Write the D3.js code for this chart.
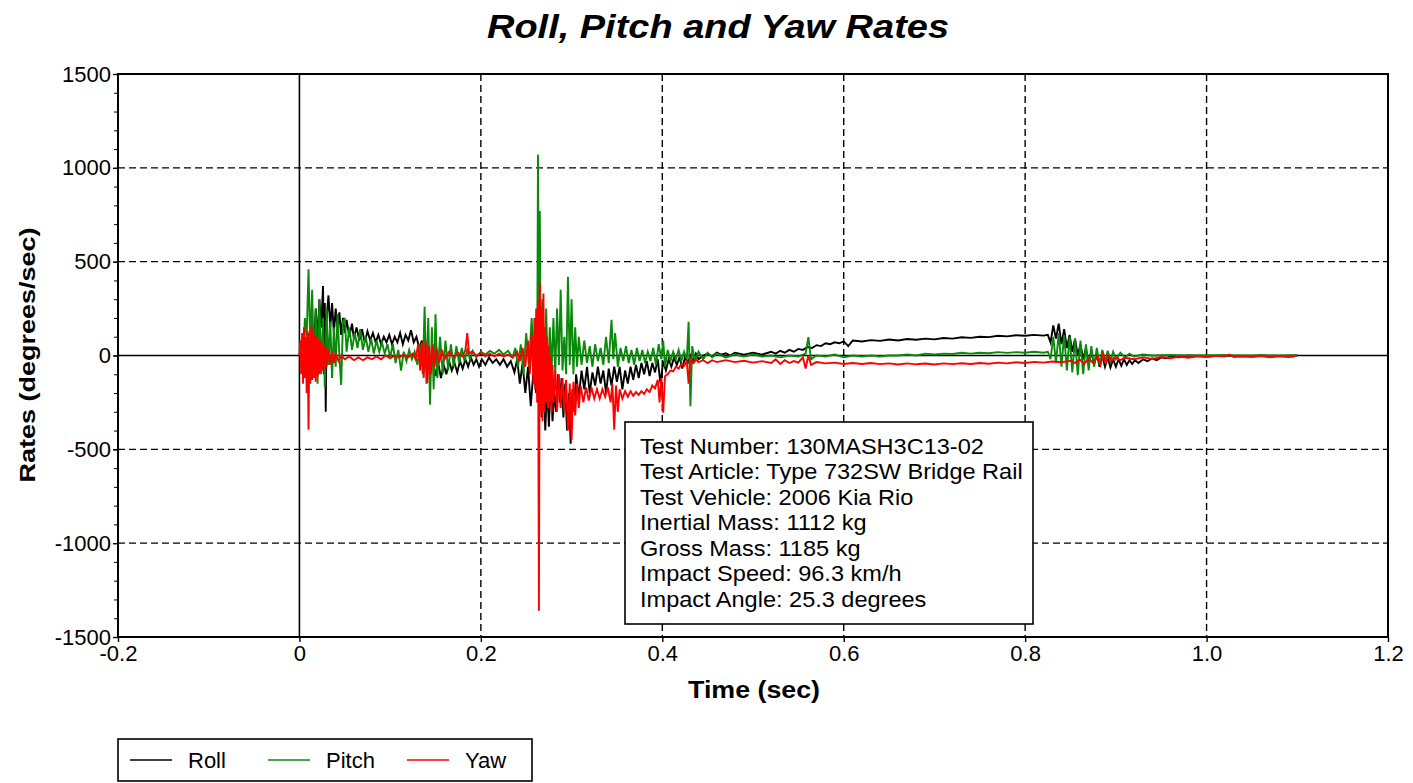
<!DOCTYPE html>
<html><head><meta charset="utf-8">
<script src="https://cdn.jsdelivr.net/npm/d3@7"></script>
<style>body{margin:0;background:#fff} text{font-family:"Liberation Sans",Arial,sans-serif;fill:#000}</style>
</head><body><svg id="c" width="1413" height="783"></svg>
<script>
// [time (sec), rate (deg/sec)]
const roll = [[0,0],[0.002,5],[0.004,-20],[0.006,60],[0.008,-40],[0.010,120],[0.012,-60],[0.014,180],[0.016,40],[0.018,250],[0.020,80],[0.022,300],[0.024,150],[0.026,370],[0.027,-100],[0.028,280],[0.029,-300],[0.030,200],[0.032,320],[0.034,150],[0.036,280],[0.038,120],[0.040,250],[0.042,140],[0.044,230],[0.046,110],[0.048,200],[0.050,120],[0.052,190],[0.055,100],[0.058,170],[0.060,90],[0.063,150],[0.066,80],[0.069,140],[0.072,70],[0.075,130],[0.078,80],[0.081,120],[0.084,70],[0.087,110],[0.090,60],[0.093,100],[0.096,70],[0.099,110],[0.102,60],[0.105,100],[0.108,70],[0.111,120],[0.114,60],[0.117,110],[0.120,80],[0.123,135],[0.126,70],[0.129,100],[0.132,40],[0.135,80],[0.138,-60],[0.141,30],[0.144,-90],[0.147,-20],[0.150,-110],[0.153,-40],[0.156,-120],[0.159,-50],[0.162,-100],[0.165,-30],[0.168,-80],[0.171,-40],[0.174,-90],[0.177,-30],[0.180,-70],[0.183,-20],[0.186,-60],[0.189,-10],[0.192,-50],[0.195,-20],[0.198,-60],[0.201,-20],[0.205,-50],[0.209,-10],[0.213,-40],[0.217,-20],[0.221,-50],[0.225,-20],[0.229,-60],[0.233,-30],[0.237,-90],[0.240,-20],[0.243,-150],[0.246,-40],[0.249,-200],[0.252,-60],[0.255,-270],[0.258,-80],[0.261,-200],[0.263,50],[0.265,-150],[0.267,-330],[0.269,-100],[0.271,-400],[0.273,-150],[0.275,-380],[0.277,-120],[0.279,-350],[0.281,-200],[0.283,-300],[0.285,-100],[0.287,-250],[0.289,-120],[0.291,-330],[0.293,-150],[0.295,-400],[0.297,-200],[0.299,-470],[0.301,-180],[0.303,-300],[0.305,-100],[0.308,-220],[0.311,-80],[0.314,-180],[0.317,-60],[0.320,-200],[0.323,-90],[0.326,-160],[0.329,-60],[0.332,-150],[0.335,-80],[0.338,-200],[0.341,-70],[0.344,-160],[0.347,-60],[0.350,-140],[0.353,-60],[0.356,-180],[0.359,-80],[0.362,-150],[0.365,-60],[0.368,-130],[0.371,-50],[0.374,-120],[0.377,-40],[0.380,-100],[0.383,-30],[0.386,-110],[0.389,-40],[0.392,-90],[0.395,-20],[0.398,-150],[0.401,-30],[0.404,-80],[0.407,-20],[0.410,-60],[0.413,-10],[0.416,-50],[0.419,-10],[0.422,-70],[0.425,-10],[0.428,-40],[0.431,0],[0.434,-30],[0.437,10],[0.440,-20],[0.445,0],[0.450,10],[0.455,-5],[0.460,15],[0.465,5],[0.470,12],[0.475,0],[0.48,15],[0.49,5],[0.50,15],[0.51,5],[0.52,20],[0.525,10],[0.53,25],[0.535,15],[0.54,30],[0.545,20],[0.55,35],[0.555,30],[0.56,45],[0.565,40],[0.57,55],[0.575,50],[0.58,65],[0.585,60],[0.59,70],[0.595,65],[0.60,75],[0.605,50],[0.61,80],[0.62,75],[0.63,82],[0.64,78],[0.65,85],[0.66,80],[0.67,88],[0.68,84],[0.69,90],[0.70,86],[0.71,93],[0.72,90],[0.73,97],[0.74,94],[0.75,100],[0.76,98],[0.77,105],[0.78,102],[0.79,108],[0.80,105],[0.81,110],[0.82,106],[0.825,110],[0.828,70],[0.831,160],[0.834,90],[0.837,170],[0.840,60],[0.843,140],[0.846,40],[0.849,110],[0.852,20],[0.855,90],[0.858,0],[0.861,60],[0.864,-20],[0.867,40],[0.870,-40],[0.873,20],[0.876,-50],[0.879,10],[0.882,-60],[0.885,0],[0.888,-60],[0.891,-10],[0.894,-65],[0.897,-20],[0.900,-60],[0.903,-20],[0.906,-55],[0.909,-20],[0.912,-50],[0.915,-25],[0.918,-45],[0.921,-25],[0.925,-40],[0.93,-20],[0.935,-30],[0.94,-15],[0.945,-25],[0.95,-10],[0.955,-15],[0.96,-5],[0.97,-10],[0.98,0],[1.0,-5],[1.02,0],[1.04,-5],[1.06,0],[1.08,-3],[1.1,0]];

const pitch = [[0,0],[0.002,30],[0.004,-50],[0.006,200],[0.008,100],[0.010,460],[0.012,50],[0.014,350],[0.016,-80],[0.018,250],[0.020,-150],[0.022,300],[0.024,-100],[0.026,200],[0.028,-170],[0.030,250],[0.032,-50],[0.034,180],[0.036,-120],[0.038,150],[0.040,-60],[0.042,220],[0.044,0],[0.046,-157],[0.048,180],[0.050,200],[0.052,20],[0.055,150],[0.058,30],[0.061,120],[0.064,40],[0.067,140],[0.070,30],[0.073,100],[0.076,20],[0.079,90],[0.082,10],[0.085,80],[0.088,20],[0.091,70],[0.094,10],[0.097,60],[0.100,-10],[0.103,60],[0.106,-40],[0.109,30],[0.112,-80],[0.115,20],[0.118,-30],[0.121,30],[0.124,-20],[0.127,20],[0.130,-50],[0.133,60],[0.136,-100],[0.138,260],[0.140,-150],[0.142,200],[0.144,-262],[0.146,150],[0.148,-180],[0.150,220],[0.152,-120],[0.155,100],[0.158,-100],[0.161,80],[0.164,-80],[0.167,60],[0.170,-60],[0.173,50],[0.176,-40],[0.179,40],[0.182,-30],[0.185,30],[0.188,-20],[0.191,25],[0.195,-10],[0.20,20],[0.205,5],[0.21,25],[0.215,10],[0.22,30],[0.225,5],[0.23,25],[0.235,-10],[0.238,40],[0.241,-60],[0.244,60],[0.247,-100],[0.250,120],[0.253,-60],[0.256,200],[0.258,-50],[0.260,180],[0.262,-100],[0.263,1070],[0.264,100],[0.265,770],[0.266,-50],[0.268,300],[0.270,-100],[0.272,250],[0.274,-150],[0.276,150],[0.278,-80],[0.280,200],[0.282,-100],[0.284,250],[0.286,-50],[0.288,350],[0.290,-80],[0.292,100],[0.294,-100],[0.296,420],[0.298,-50],[0.300,300],[0.302,-100],[0.304,150],[0.306,-60],[0.308,100],[0.311,-50],[0.314,80],[0.317,-40],[0.320,50],[0.323,-60],[0.326,60],[0.329,-30],[0.332,40],[0.335,-50],[0.338,100],[0.341,-40],[0.344,190],[0.346,-20],[0.348,120],[0.351,-60],[0.354,40],[0.357,-30],[0.360,50],[0.363,-40],[0.366,30],[0.369,-50],[0.372,40],[0.375,-30],[0.378,30],[0.381,-40],[0.384,20],[0.387,-30],[0.390,40],[0.393,-50],[0.396,60],[0.399,-20],[0.401,80],[0.403,-60],[0.406,30],[0.409,-30],[0.412,20],[0.415,-20],[0.418,30],[0.421,-30],[0.424,20],[0.427,-20],[0.429,180],[0.431,-270],[0.433,50],[0.436,-30],[0.440,20],[0.445,-20],[0.45,15],[0.455,-10],[0.46,10],[0.47,-10],[0.48,5],[0.49,-5],[0.50,5],[0.51,-5],[0.52,0],[0.53,-10],[0.54,0],[0.55,-5],[0.558,10],[0.561,98],[0.564,-20],[0.57,0],[0.58,-5],[0.59,5],[0.60,-10],[0.61,0],[0.62,-5],[0.63,0],[0.64,-5],[0.65,0],[0.66,0],[0.67,5],[0.68,0],[0.69,10],[0.70,5],[0.71,10],[0.72,8],[0.73,15],[0.74,10],[0.75,15],[0.76,12],[0.77,18],[0.78,14],[0.79,18],[0.80,15],[0.81,20],[0.82,15],[0.825,20],[0.828,-20],[0.831,100],[0.834,-40],[0.837,120],[0.840,-60],[0.843,110],[0.846,-80],[0.849,100],[0.852,-90],[0.855,90],[0.858,-105],[0.861,80],[0.864,-100],[0.867,60],[0.870,-80],[0.873,50],[0.876,-60],[0.879,40],[0.882,-50],[0.885,30],[0.888,-40],[0.891,25],[0.894,-30],[0.897,20],[0.900,-20],[0.905,15],[0.910,-10],[0.915,10],[0.92,-5],[0.93,5],[0.94,0],[0.96,3],[0.98,0],[1.0,2],[1.05,0],[1.1,0]];

const yaw = [[0,0],[0.001,80],[0.002,-100],[0.003,120],[0.004,-150],[0.005,150],[0.006,-120],[0.007,100],[0.008,-200],[0.009,130],[0.010,-395],[0.011,120],[0.012,-150],[0.013,160],[0.014,-130],[0.015,140],[0.016,-120],[0.017,110],[0.018,-140],[0.019,100],[0.020,-110],[0.021,90],[0.022,-100],[0.023,80],[0.024,-90],[0.025,60],[0.026,-80],[0.027,50],[0.028,-70],[0.029,40],[0.030,-60],[0.032,30],[0.034,-50],[0.036,20],[0.038,-40],[0.040,10],[0.043,-30],[0.046,0],[0.05,-20],[0.055,-5],[0.06,-25],[0.065,-10],[0.07,-25],[0.075,-10],[0.08,-20],[0.085,-5],[0.09,-20],[0.095,0],[0.10,-15],[0.105,0],[0.11,-10],[0.115,5],[0.12,-10],[0.125,10],[0.128,-20],[0.131,60],[0.133,-80],[0.135,70],[0.137,-120],[0.139,80],[0.141,-147],[0.143,50],[0.145,-100],[0.147,60],[0.149,-60],[0.151,40],[0.154,-40],[0.157,30],[0.160,-20],[0.165,20],[0.17,-10],[0.175,15],[0.18,-5],[0.183,30],[0.185,120],[0.187,10],[0.19,20],[0.195,0],[0.20,15],[0.205,-5],[0.21,10],[0.215,-5],[0.22,10],[0.225,-5],[0.23,5],[0.235,-10],[0.24,20],[0.243,-30],[0.246,40],[0.249,-60],[0.252,80],[0.254,-100],[0.256,120],[0.258,-150],[0.259,200],[0.260,-180],[0.261,250],[0.262,-250],[0.263,300],[0.264,-1360],[0.265,385],[0.266,-300],[0.267,250],[0.268,-350],[0.269,330],[0.270,-300],[0.271,150],[0.272,-250],[0.273,100],[0.274,-280],[0.275,50],[0.276,-250],[0.277,0],[0.278,-300],[0.279,-50],[0.280,-250],[0.282,-80],[0.284,-300],[0.286,-100],[0.288,-280],[0.290,-120],[0.292,-300],[0.294,-130],[0.296,-400],[0.298,-150],[0.300,-450],[0.302,-140],[0.304,-320],[0.306,-150],[0.308,-280],[0.310,-160],[0.313,-250],[0.316,-170],[0.319,-240],[0.322,-170],[0.325,-230],[0.328,-180],[0.331,-230],[0.334,-180],[0.337,-220],[0.340,-170],[0.343,-250],[0.345,-150],[0.347,-395],[0.349,-160],[0.351,-300],[0.353,-180],[0.356,-230],[0.359,-190],[0.362,-220],[0.365,-190],[0.368,-215],[0.371,-195],[0.374,-210],[0.377,-190],[0.380,-205],[0.383,-180],[0.386,-195],[0.389,-160],[0.392,-175],[0.395,-130],[0.397,-250],[0.399,-120],[0.401,-305],[0.403,-110],[0.406,-100],[0.409,-80],[0.412,-85],[0.415,-60],[0.418,-70],[0.421,-45],[0.424,-55],[0.427,-30],[0.429,-150],[0.431,-20],[0.434,-40],[0.437,-20],[0.44,-35],[0.445,-25],[0.45,-40],[0.455,-25],[0.46,-35],[0.47,-25],[0.48,-35],[0.49,-28],[0.50,-38],[0.51,-30],[0.52,-40],[0.525,-20],[0.53,-45],[0.535,-25],[0.54,-40],[0.545,-30],[0.55,-38],[0.555,-10],[0.558,-70],[0.561,0],[0.564,-50],[0.57,-35],[0.58,-42],[0.59,-38],[0.60,-45],[0.61,-40],[0.62,-45],[0.63,-40],[0.64,-46],[0.65,-42],[0.66,-48],[0.67,-42],[0.68,-47],[0.69,-43],[0.70,-48],[0.71,-42],[0.72,-46],[0.73,-41],[0.74,-45],[0.75,-40],[0.76,-44],[0.77,-38],[0.78,-42],[0.79,-36],[0.80,-40],[0.81,-34],[0.82,-38],[0.83,-32],[0.84,-36],[0.85,-28],[0.855,-40],[0.86,-20],[0.865,-45],[0.87,-15],[0.875,-40],[0.88,-5],[0.883,-50],[0.886,10],[0.889,-40],[0.892,0],[0.895,-30],[0.90,-10],[0.905,-25],[0.91,-12],[0.92,-20],[0.93,-10],[0.94,-18],[0.95,-8],[0.96,-15],[0.97,-6],[0.98,-12],[0.99,-4],[1.00,-8],[1.01,-2],[1.02,-6],[1.025,5],[1.03,-8],[1.04,-3],[1.05,-8],[1.06,-3],[1.07,-9],[1.08,-4],[1.09,-8],[1.097,-5]];

const xTicks = [-0.2, 0, 0.2, 0.4, 0.6, 0.8, 1.0, 1.2];
const xTickLabels = ["-0.2", "0", "0.2", "0.4", "0.6", "0.8", "1.0", "1.2"];
const yTicks = [-1500, -1000, -500, 0, 500, 1000, 1500];
const yTickLabels = ["-1500", "-1000", "-500", "0", "500", "1000", "1500"];
const seriesNames = ["Roll", "Pitch", "Yaw"];
const seriesColors = ["#000000", "#0a8a0a", "#ff0000"];
const infoLines = ["Test Number: 130MASH3C13-02", "Test Article: Type 732SW Bridge Rail", "Test Vehicle: 2006 Kia Rio", "Inertial Mass: 1112 kg", "Gross Mass: 1185 kg", "Impact Speed: 96.3 km/h", "Impact Angle: 25.3 degrees"];
const titleText = "Roll, Pitch and Yaw Rates";
const xTitle = "Time (sec)";
const yTitle = "Rates (degrees/sec)";

const svg = d3.select("#c");
const m = {l: 118, r: 1388, t: 74, b: 637};
const x = d3.scaleLinear().domain([-0.2, 1.2]).range([m.l, m.r]);
const y = d3.scaleLinear().domain([-1500, 1500]).range([m.b, m.t]);

// grid
const g = svg.append("g");
xTicks.filter(v => v > -0.2 && v < 1.2).forEach(v => {
  g.append("line").attr("x1", x(v)).attr("x2", x(v)).attr("y1", m.t).attr("y2", m.b)
    .attr("stroke", "#000").attr("stroke-width", v === 0 ? 1.6 : 1.4)
    .attr("stroke-dasharray", v === 0 ? null : "7,4");
});
yTicks.filter(v => v > -1500 && v < 1500).forEach(v => {
  g.append("line").attr("x1", m.l).attr("x2", m.r).attr("y1", y(v)).attr("y2", y(v))
    .attr("stroke", "#000").attr("stroke-width", v === 0 ? 1.6 : 1.4)
    .attr("stroke-dasharray", v === 0 ? null : "7,4");
});

// series
svg.append("clipPath").attr("id", "clip").append("rect")
  .attr("x", m.l).attr("y", m.t).attr("width", m.r - m.l).attr("height", m.b - m.t);
const line = d3.line().x(d => x(d[0])).y(d => y(d[1]));
const dataSets = [roll, pitch, yaw];
const sg = svg.append("g").attr("clip-path", "url(#clip)");
dataSets.forEach((ds, i) => {
  sg.append("path").datum(ds).attr("d", line).attr("fill", "none")
    .attr("stroke", seriesColors[i]).attr("stroke-width", 1.9).attr("stroke-linejoin", "miter");
});

// info box
const bx = 625, by = 422, bw = 408, bh = 202;
svg.append("rect").attr("x", bx).attr("y", by).attr("width", bw).attr("height", bh)
  .attr("fill", "#fff").attr("stroke", "#000").attr("stroke-width", 1.6);
svg.append("g").attr("transform", `translate(${bx + 15},0) scale(1.07,1)`)
  .selectAll("text").data(infoLines).join("text")
  .attr("x", 0).attr("y", (d, i) => by + 32 + i * 25.5)
  .attr("font-size", 22).text(d => d);

// axes
const ya = svg.append("g").attr("transform", `translate(${m.l},0)`)
  .call(d3.axisLeft(y).tickValues(yTicks).tickSize(5).tickPadding(2).tickFormat((d, i) => yTickLabels[i]));
svg.append("g").attr("transform", `translate(${m.l},0)`)
  .call(d3.axisLeft(y).tickValues(d3.range(-1500, 1501, 100)).tickSize(4).tickFormat(""))
  .call(s => s.select(".domain").remove());
const xa = svg.append("g").attr("transform", `translate(0,${m.b})`)
  .call(d3.axisBottom(x).tickValues(xTicks).tickSize(5).tickPadding(3).tickFormat((d, i) => xTickLabels[i]));
[ya, xa].forEach(a => {
  a.selectAll("text").attr("font-size", 22).attr("font-family", "Liberation Sans, Arial, sans-serif").attr("fill", "#000");
  a.selectAll("line").attr("stroke", "#000").attr("stroke-width", 1.4);
  a.select(".domain").remove();
});

// frame
svg.append("rect").attr("x", m.l).attr("y", m.t).attr("width", m.r - m.l).attr("height", m.b - m.t)
  .attr("fill", "none").attr("stroke", "#000").attr("stroke-width", 2);

// titles
svg.append("text").attr("x", 718).attr("y", 38).attr("text-anchor", "middle")
  .attr("font-size", 33).attr("font-weight", "bold").attr("font-style", "italic")
  .attr("textLength", 462).attr("lengthAdjust", "spacingAndGlyphs").text(titleText);
svg.append("text").attr("x", 754).attr("y", 698).attr("text-anchor", "middle")
  .attr("font-size", 23).attr("font-weight", "bold")
  .attr("textLength", 132).attr("lengthAdjust", "spacingAndGlyphs").text(xTitle);
svg.append("text").attr("transform", "translate(35,355) rotate(-90)").attr("text-anchor", "middle")
  .attr("font-size", 22).attr("font-weight", "bold")
  .attr("textLength", 255).attr("lengthAdjust", "spacingAndGlyphs").text(yTitle);

// legend
const lg = svg.append("g");
lg.append("rect").attr("x", 118).attr("y", 739).attr("width", 414).attr("height", 42)
  .attr("fill", "#fff").attr("stroke", "#000").attr("stroke-width", 1.6);
const legX = [130, 268, 407];
seriesNames.forEach((n, i) => {
  lg.append("line").attr("x1", legX[i]).attr("x2", legX[i] + 42).attr("y1", 760).attr("y2", 760)
    .attr("stroke", seriesColors[i]).attr("stroke-width", 1.5);
  lg.append("text").attr("x", legX[i] + 58).attr("y", 768).attr("font-size", 22).text(n);
});
</script></body></html>
